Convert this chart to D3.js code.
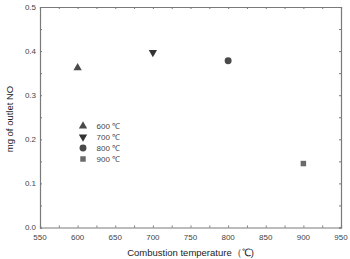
<!DOCTYPE html>
<html><head><meta charset="utf-8">
<script src="https://cdn.jsdelivr.net/npm/d3@7"></script>
<style>body{margin:0;background:#fff}svg{display:block}text{font-family:Arial,"Liberation Sans",sans-serif}</style>
</head><body>
<script>
const categories = ["600 ℃","700 ℃","800 ℃","900 ℃"];
const temps = [600,700,800,900];
const values = [0.362,0.397,0.378,0.145];
const shapes = ["triangle","triangleDown","circle","square"];
const xTicks = [550,600,650,700,750,800,850,900,950];
const yTicks = [0.0,0.1,0.2,0.3,0.4,0.5];

const W=350,H=259, L=40, R=341, T=7, B=227.5;
const svg=d3.select("body").append("svg").attr("width",W).attr("height",H);
const x=d3.scaleLinear().domain([550,950]).range([L,R]);
const y=d3.scaleLinear().domain([0,0.5]).range([B,T]);
const axisColor="#7a7a7a", textColor="#444";

const minorX=d3.range(550,951,25), minorY=d3.range(0,0.501,0.05);
const g=svg.append("g");
const ax=g.append("g").attr("transform",`translate(0,${B})`).call(d3.axisBottom(x).tickValues(minorX).tickSize(-2).tickFormat(""));
const ay=g.append("g").attr("transform",`translate(${L},0)`).call(d3.axisLeft(y).tickValues(minorY).tickSize(-2).tickFormat(""));
const at=g.append("g").attr("transform",`translate(0,${T})`).call(d3.axisTop(x).tickValues(minorX).tickSize(-2).tickFormat(""));
const ar=g.append("g").attr("transform",`translate(${R},0)`).call(d3.axisRight(y).tickValues(minorY).tickSize(-2).tickFormat(""));
[ax,ay,at,ar].forEach(a=>{a.selectAll("path").attr("stroke",axisColor).attr("stroke-width",1.2);a.selectAll("line").attr("stroke",axisColor);});

svg.append("g").selectAll("text").data(xTicks).join("text")
  .attr("x",d=>x(d)).attr("y",B+12).attr("text-anchor","middle")
  .attr("font-size",8).attr("fill",textColor).text(d=>d);
svg.append("g").selectAll("text").data(yTicks).join("text")
  .attr("x",L-4).attr("y",d=>y(d)+2.8).attr("text-anchor","end")
  .attr("font-size",8).attr("fill",textColor).text(d=>d.toFixed(1));

svg.append("text").attr("x",(L+R)/2).attr("y",256).attr("text-anchor","middle")
  .attr("font-size",9.5).attr("fill","#222").text("Combustion temperature（℃)");
svg.append("text").attr("transform",`translate(13,119) rotate(-90)`).attr("text-anchor","middle")
  .attr("font-size",9.5).attr("fill","#222").text("mg of outlet NO");

const symMap={triangle:d3.symbolTriangle,triangleDown:d3.symbolTriangle,circle:d3.symbolCircle,square:d3.symbolSquare};
const sizes={triangle:30,triangleDown:30,circle:38,square:30};
const fills=["#4a4a4a","#333","#4a4a4a","#6a6a6a"];
function sym(sel,i){
  const s=shapes[i];
  sel.attr("d",d3.symbol().type(symMap[s]).size(sizes[s])()).attr("fill",fills[i]);
}
temps.forEach((t,i)=>{
  const p=svg.append("path").attr("transform",`translate(${x(t)},${y(values[i])})${shapes[i]==="triangleDown"?" rotate(180)":""}`);
  sym(p,i);
});
categories.forEach((c,i)=>{
  const ly=126+i*11;
  const p=svg.append("path").attr("transform",`translate(83,${ly})${shapes[i]==="triangleDown"?" rotate(180)":""}`);
  sym(p,i);
  svg.append("text").attr("x",96.5).attr("y",ly+2.8).attr("font-size",8).attr("fill",textColor).text(c);
});
</script>
</body></html>
